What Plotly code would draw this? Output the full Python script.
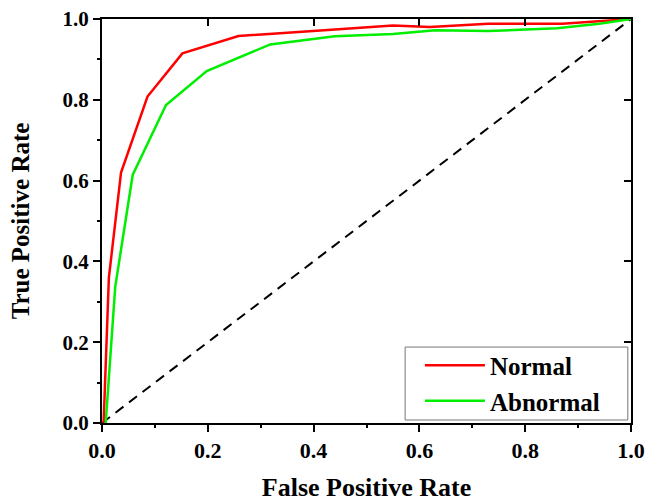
import plotly.graph_objects as go

# ROC curve points (false positive rate, true positive rate)
normal_fpr = [0.003, 0.013, 0.036, 0.086, 0.152, 0.258, 0.42, 0.55, 0.62, 0.73, 0.87, 1.0]
normal_tpr = [0.0, 0.36, 0.62, 0.808, 0.915, 0.958, 0.972, 0.984, 0.98, 0.988, 0.988, 1.0]

abnormal_fpr = [0.007, 0.025, 0.058, 0.121, 0.198, 0.318, 0.44, 0.55, 0.63, 0.73, 0.86, 0.94, 1.0]
abnormal_tpr = [0.0, 0.337, 0.614, 0.787, 0.871, 0.937, 0.957, 0.963, 0.972, 0.97, 0.977, 0.988, 1.0]

# chance line
chance_x = [0.0, 1.0]
chance_y = [0.0, 1.0]

tick_vals = [0.0, 0.2, 0.4, 0.6, 0.8, 1.0]
tick_text = ["0.0", "0.2", "0.4", "0.6", "0.8", "1.0"]
minor_vals = [0.1, 0.3, 0.5, 0.7, 0.9]

FONT = "Liberation Serif, Times New Roman, serif"

fig = go.Figure()
fig.add_trace(go.Scatter(x=chance_x, y=chance_y, mode="lines", showlegend=False,
                         line=dict(color="black", width=2, dash="10px,7px")))
fig.add_trace(go.Scatter(x=normal_fpr, y=normal_tpr, mode="lines", name="<b>Normal</b>",
                         line=dict(color="#ff0000", width=2.5)))
fig.add_trace(go.Scatter(x=abnormal_fpr, y=abnormal_tpr, mode="lines", name="<b>Abnormal</b>",
                         line=dict(color="#00ee00", width=2.5)))
# carrier trace for the top/right frame axes
fig.add_trace(go.Scatter(x=[None], y=[None], xaxis="x2", yaxis="y2",
                         showlegend=False, hoverinfo="skip"))

axis_common = dict(range=[0, 1], showgrid=False, zeroline=False, showline=True,
                   linecolor="black", linewidth=2, tickcolor="black", automargin=False)

bold_ticks = ["<b>%s</b>" % t for t in tick_text]

fig.update_layout(
    width=648, height=502,
    margin=dict(l=102, r=17, t=19, b=79),
    paper_bgcolor="white", plot_bgcolor="white",
    font=dict(family=FONT, color="black"),
    xaxis=dict(**axis_common, tickvals=tick_vals, ticktext=bold_ticks,
               ticks="outside", ticklen=7, tickwidth=2,
               minor=dict(tickvals=minor_vals, ticks="outside",
                          ticklen=3, tickwidth=1.5, tickcolor="black"),
               tickfont=dict(family=FONT, size=22, color="black"),
               title=dict(text="<b>False Positive Rate</b>",
                          font=dict(family=FONT, size=26, color="black"), standoff=24)),
    yaxis=dict(**axis_common, tickvals=tick_vals, ticktext=bold_ticks,
               ticks="outside", ticklen=7, tickwidth=2,
               minor=dict(tickvals=minor_vals, ticks="outside",
                          ticklen=3, tickwidth=1.5, tickcolor="black"),
               tickfont=dict(family=FONT, size=21, color="black"),
               title=dict(text="<b>True Positive Rate</b>",
                          font=dict(family=FONT, size=25, color="black"), standoff=26)),
    xaxis2=dict(**axis_common, overlaying="x", side="top", anchor="y2",
                tickvals=tick_vals, ticks="inside", ticklen=7, tickwidth=2,
                showticklabels=False),
    yaxis2=dict(**axis_common, overlaying="y", side="right", anchor="x2",
                tickvals=tick_vals, ticks="inside", ticklen=7, tickwidth=2,
                showticklabels=False),
    legend=dict(x=0.601, y=0.099, xanchor="left", yanchor="middle",
                bgcolor="rgba(0,0,0,0)", borderwidth=0,
                itemwidth=60, tracegroupgap=0,
                font=dict(family=FONT, size=25, color="black")),
    # frame around the legend entries
    shapes=[dict(type="rect", xref="paper", yref="paper",
                 x0=0.573, x1=0.994, y0=0.0074, y1=0.188,
                 line=dict(color="#777777", width=1), fillcolor="white", layer="below")],
)

fig.write_html("out.html")
